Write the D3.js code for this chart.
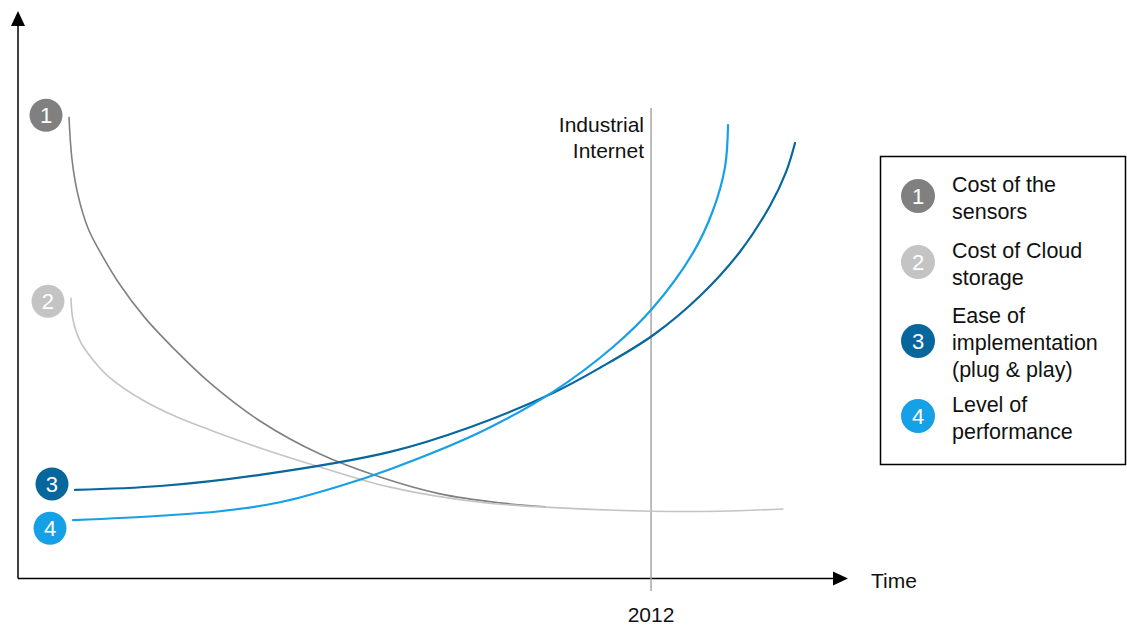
<!DOCTYPE html>
<html lang="en">
<head>
    <meta charset="UTF-8">
    <title>Industrial Internet drivers</title>
    <style>
        html, body { margin: 0; padding: 0; background: #fff; }
        svg text { font-family: "Liberation Sans", Arial, sans-serif; }
    </style>
</head>
<body>
<svg id="chart" width="1127" height="626"></svg>
<script src="https://d3js.org/d3.v7.min.js"></script>
<script>

    // time runs 0..100 along the x axis, level 0..100 up the y axis
    var costSensors = [[6.22, 82.3], [6.59, 74.7], [7.32, 68.4], [8.54, 62.5], [10.0, 58.3], [12.44, 52.4],
        [15.49, 46.5], [19.15, 40.8], [23.41, 34.9], [29.51, 28.1], [36.83, 22.2], [44.15, 18.1],
        [51.46, 15.1], [58.78, 13.5], [64.27, 12.8]];
    var costCloud = [[6.46, 50.0], [6.71, 46.1], [7.56, 42.4], [9.15, 39.0], [11.22, 35.8], [15.24, 31.8],
        [19.39, 28.8], [23.41, 26.5], [29.51, 23.3], [36.83, 19.9], [45.37, 16.3], [56.34, 13.6],
        [66.1, 12.6], [77.2, 12.0], [85.61, 12.0], [93.29, 12.4]];
    var easeImpl = [[6.95, 15.8], [17.32, 16.5], [29.51, 18.5], [45.37, 22.6], [55.12, 27.0], [65.24, 33.1],
        [70.98, 37.6], [77.44, 43.4], [83.17, 50.4], [88.05, 58.3], [91.71, 66.5], [93.66, 72.5], [94.76, 77.7]];
    var performance = [[6.71, 10.4], [17.32, 11.2], [24.63, 12.0], [31.95, 13.6], [39.27, 16.5], [45.37, 19.5],
        [56.34, 26.1], [65.24, 33.3], [72.56, 41.3], [77.44, 48.3], [82.32, 58.1], [84.76, 65.7],
        [86.22, 73.4], [86.59, 80.9]];

    var seriesNumbers = ["1", "2", "3", "4"];
    var legendLines = [
        ["Cost of the", "sensors"],
        ["Cost of Cloud", "storage"],
        ["Ease of", "implementation", "(plug & play)"],
        ["Level of", "performance"]
    ];
    var markerTime = 77.2;
    var markerTick = "2012";
    var markerLabel = ["Industrial", "Internet"];
    var xAxisLabel = "Time";

    var series = [costSensors, costCloud, easeImpl, performance];
    var colors = ["#808080", "#c4c4c4", "#07679d", "#16a0e6"],
        widths = [1.6, 1.6, 2.2, 2.2],
        badgeDy = [-2, 3, -6, 8];

    var svg = d3.select("#chart"),
        x = d3.scaleLinear().domain([0, 100]).range([18, 838]),
        y = d3.scaleLinear().domain([0, 100]).range([578.5, 18]);

    var line = d3.line()
        .x(function (d) { return x(d[0]); })
        .y(function (d) { return y(d[1]); })
        .curve(d3.curveCatmullRom.alpha(0.5));

    // axes with arrow heads
    svg.append("line")
        .attr("x1", x(0)).attr("y1", y(0))
        .attr("x2", x(0)).attr("y2", 24)
        .attr("stroke", "#000").attr("stroke-width", 1.5);
    svg.append("path")
        .attr("d", d3.line()([[x(0), 11], [x(0) - 7, 26], [x(0) + 7, 26]]) + "Z")
        .attr("fill", "#000");
    svg.append("line")
        .attr("x1", x(0)).attr("y1", y(0))
        .attr("x2", 836).attr("y2", y(0))
        .attr("stroke", "#000").attr("stroke-width", 1.5);
    svg.append("path")
        .attr("d", d3.line()([[848, y(0)], [833, y(0) - 7], [833, y(0) + 7]]) + "Z")
        .attr("fill", "#000");
    svg.append("text")
        .attr("x", 871).attr("y", y(0) + 9)
        .attr("font-size", 21).attr("fill", "#111")
        .text(xAxisLabel);

    // 2012 marker
    svg.append("line")
        .attr("x1", x(markerTime)).attr("y1", 108)
        .attr("x2", x(markerTime)).attr("y2", 591)
        .attr("stroke", "#a6a6a6").attr("stroke-width", 1.5);
    svg.append("text")
        .attr("x", x(markerTime)).attr("y", 622)
        .attr("text-anchor", "middle")
        .attr("font-size", 21).attr("fill", "#111")
        .text(markerTick);
    svg.append("text")
        .attr("text-anchor", "end")
        .attr("font-size", 21).attr("fill", "#111")
        .selectAll("tspan")
        .data(markerLabel)
        .join("tspan")
        .attr("x", x(markerTime) - 7)
        .attr("y", function (d, i) { return 132 + i * 26; })
        .text(function (d) { return d; });

    // curves
    svg.selectAll("path.series")
        .data(series)
        .join("path")
        .attr("class", "series")
        .attr("d", line)
        .attr("fill", "none")
        .attr("stroke", function (d, i) { return colors[i]; })
        .attr("stroke-width", function (d, i) { return widths[i]; })
        .attr("stroke-linecap", "round");

    // numbered badges at curve starts
    var badges = svg.selectAll("g.badge")
        .data(series)
        .join("g")
        .attr("class", "badge")
        .attr("transform", function (d, i) {
            return "translate(" + (x(d[0][0]) - 23) + "," + (y(d[0][1]) + badgeDy[i]) + ")";
        });
    badges.append("circle")
        .attr("r", 16.5)
        .attr("fill", function (d, i) { return colors[i]; });
    badges.append("text")
        .attr("text-anchor", "middle")
        .attr("dy", 8)
        .attr("font-size", 22)
        .attr("fill", "#fff")
        .text(function (d, i) { return seriesNumbers[i]; });

    // legend
    svg.append("rect")
        .attr("x", 880.5).attr("y", 156.5)
        .attr("width", 245).attr("height", 308)
        .attr("fill", "none").attr("stroke", "#000").attr("stroke-width", 1.5);

    var legendY = [196, 262, 341, 416];
    var items = svg.selectAll("g.legend")
        .data(legendLines)
        .join("g")
        .attr("class", "legend")
        .attr("transform", function (d, i) { return "translate(918," + legendY[i] + ")"; });
    items.append("circle")
        .attr("r", 17)
        .attr("fill", function (d, i) { return colors[i]; });
    items.append("text")
        .attr("text-anchor", "middle")
        .attr("dy", 8)
        .attr("font-size", 22)
        .attr("fill", "#fff")
        .text(function (d, i) { return seriesNumbers[i]; });
    items.append("text")
        .attr("font-size", 21.5)
        .attr("fill", "#111")
        .selectAll("tspan")
        .data(function (d) { return d; })
        .join("tspan")
        .attr("x", 34)
        .attr("y", function (d, i, nodes) {
            var n = nodes.length;
            return 9 + (i - (n - 1) / 2) * 27;
        })
        .text(function (d) { return d; });

</script>
</body>
</html>
